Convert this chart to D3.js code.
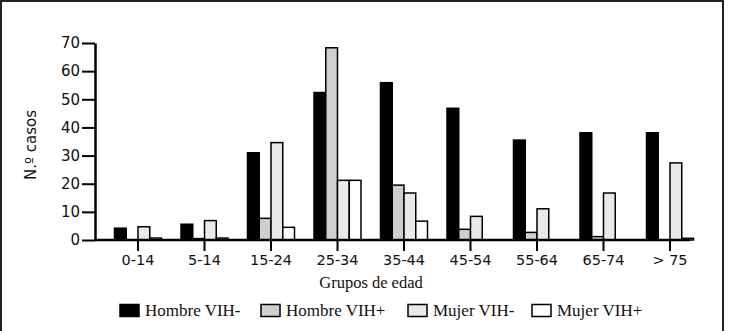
<!DOCTYPE html>
<html>
<head>
<meta charset="utf-8">
<script src="https://cdn.jsdelivr.net/npm/d3@7"></script>
<style>
  body { margin: 0; background: #fff; }
  svg { display: block; }
</style>
</head>
<body>
<div id="chart"></div>
<script>
// Data
const groups = ["0-14", "5-14", "15-24", "25-34", "35-44", "45-54", "55-64", "65-74", "> 75"];
const seriesNames = ["Hombre VIH-", "Hombre VIH+", "Mujer VIH-", "Mujer VIH+"];
const hombreNeg = [4.2, 5.6, 31, 52.4, 55.9, 46.8, 35.5, 38.1, 38.1];
const hombrePos = [0, 0.5, 7.7, 68.3, 19.5, 3.8, 2.7, 1.2, 0];
const mujerNeg = [4.7, 6.9, 34.6, 21.2, 16.7, 8.4, 11.1, 16.7, 27.4];
const mujerPos = [0.7, 0.7, 4.5, 21.2, 6.7, 0, 0, 0, 0.6];
const yTicks = [0, 10, 20, 30, 40, 50, 60, 70];

const seriesValues = [hombreNeg, hombrePos, mujerNeg, mujerPos];
const colors = ["#000000", "#cfcfcf", "#e9e9e9", "#ffffff"];

const width = 730, height = 331;

const svg = d3.select("#chart")
    .append("svg")
    .attr("width", width)
    .attr("height", height);

// Outer frame
svg.append("rect")
    .attr("x", 1)
    .attr("y", 1)
    .attr("width", 722)
    .attr("height", 345)
    .attr("fill", "none")
    .attr("stroke", "#222")
    .attr("stroke-width", 2);

// Scales
let x = d3.scaleBand()
    .domain(groups)
    .range([104.75, 703.25])
    .padding(0);

let xInner = d3.scaleBand()
    .domain(seriesNames)
    .range([-23.5, 23.5]);

let y = d3.scaleLinear()
    .domain([0, 70])
    .range([240, 43]);

// Bars
const rows = [];
groups.forEach((g, i) => {
    seriesNames.forEach((s, j) => {
        rows.push({ group: g, series: s, value: seriesValues[j][i], color: colors[j] });
    });
});

svg.append("g")
    .selectAll("rect")
    .data(rows)
    .enter().append("rect")
    .attr("x", d => x(d.group) + x.bandwidth() / 2 + xInner(d.series))
    .attr("y", d => y(d.value))
    .attr("width", xInner.bandwidth())
    .attr("height", d => y(0) - y(d.value))
    .attr("fill", d => d.color)
    .attr("stroke", "#000")
    .attr("stroke-width", 1.5);

// Y axis
let yAxis = svg.append("g")
    .attr("transform", "translate(95,0)")
    .call(d3.axisLeft(y).tickValues(yTicks).tickSize(13).tickPadding(2).tickSizeOuter(0));
yAxis.select(".domain").attr("stroke-width", 2.5);
yAxis.selectAll(".tick line").attr("stroke-width", 2);
yAxis.selectAll("text")
    .attr("font-family", "DejaVu Sans")
    .attr("font-size", 15)
    .attr("fill", "#111");

// X axis
let xAxis = svg.append("g")
    .attr("transform", "translate(0,240)")
    .call(d3.axisBottom(x).tickSize(11).tickPadding(4).tickSizeOuter(0));
xAxis.select(".domain").remove();
xAxis.selectAll(".tick line").attr("stroke-width", 2);
xAxis.selectAll("text")
    .attr("font-family", "DejaVu Sans")
    .attr("font-size", 14.5)
    .attr("fill", "#111");

// Baseline
svg.append("line")
    .attr("x1", 95)
    .attr("x2", 690)
    .attr("y1", y(0))
    .attr("y2", y(0))
    .attr("stroke", "#000")
    .attr("stroke-width", 2.5);

// Axis titles
svg.append("text")
    .attr("x", 371)
    .attr("y", 288)
    .attr("text-anchor", "middle")
    .attr("font-family", "Liberation Serif")
    .attr("font-size", 16.5)
    .attr("fill", "#111")
    .text("Grupos de edad");

svg.append("text")
    .attr("transform", "translate(36,145) rotate(-90)")
    .attr("text-anchor", "middle")
    .attr("font-family", "DejaVu Sans")
    .attr("font-size", 15)
    .attr("fill", "#111")
    .text("N.º casos");

// Legend
const legendX = [120, 261, 408, 532];
let legend = svg.append("g");
seriesNames.forEach((s, i) => {
    legend.append("rect")
        .attr("x", legendX[i])
        .attr("y", 304.5)
        .attr("width", 19)
        .attr("height", 12)
        .attr("fill", colors[i])
        .attr("stroke", "#000")
        .attr("stroke-width", 1.5);
    legend.append("text")
        .attr("x", legendX[i] + 25)
        .attr("y", 316)
        .attr("font-family", "Liberation Serif")
        .attr("font-size", 17)
        .attr("fill", "#111")
        .text(s);
});
</script>
</body>
</html>
